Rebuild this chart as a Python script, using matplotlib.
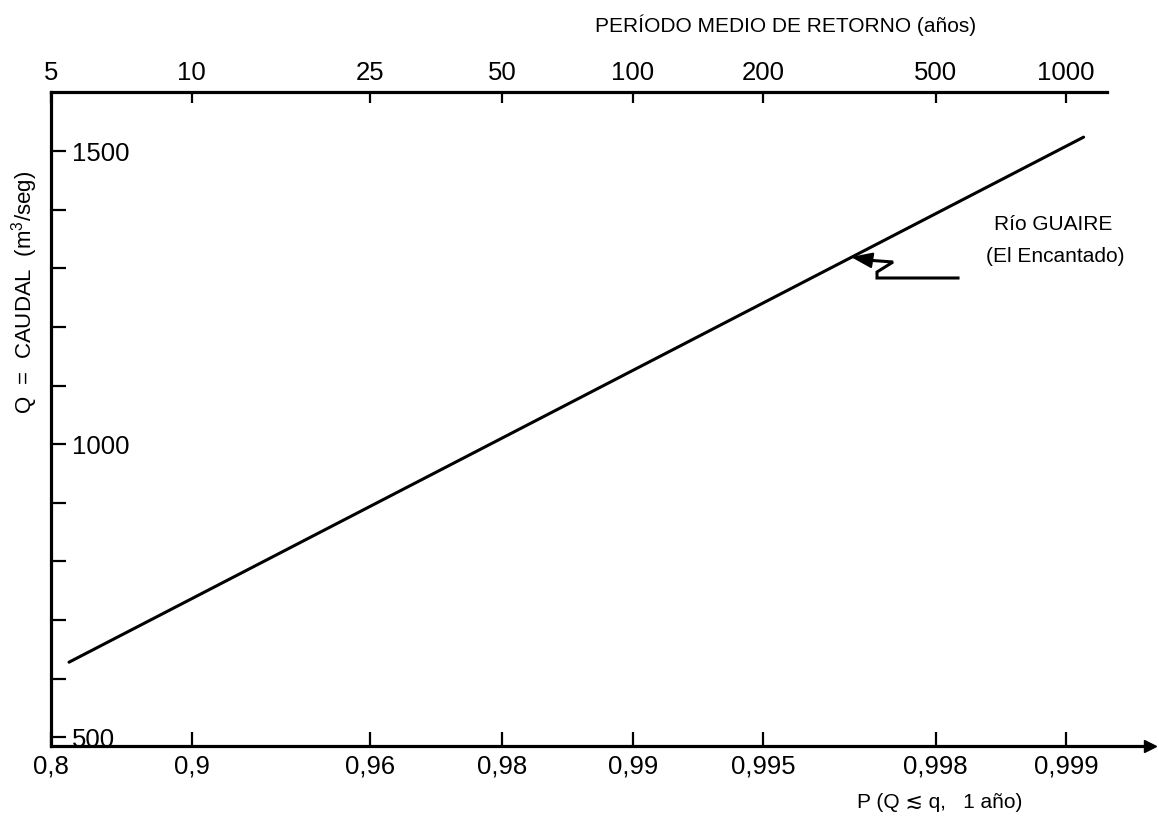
import numpy as np
import matplotlib
matplotlib.use("Agg")
import matplotlib.pyplot as plt

# Data
prob = [0.8165, 0.99909]           # P(Q <= q, 1 year) at the line ends
caudal = [628, 1524]               # Q (m3/s)

p_ticks = [0.8, 0.9, 0.96, 0.98, 0.99, 0.995, 0.998, 0.999]
p_labels = ["0,8", "0,9", "0,96", "0,98", "0,99", "0,995", "0,998", "0,999"]
t_ticks = [5, 10, 25, 50, 100, 200, 500, 1000]   # return period (years)

q_ticks = list(range(500, 1501, 100))
q_labels = [str(q) if q % 500 == 0 else "" for q in q_ticks]

plt.rcParams['font.family'] = ['Liberation Sans', 'DejaVu Sans']
plt.rcParams['mathtext.fontset'] = 'custom'
plt.rcParams['mathtext.rm'] = 'Liberation Sans'


# Gumbel probability scale
def gumbel(p):
    p = np.clip(np.asarray(p, dtype=float), 1e-12, 1 - 1e-12)
    return -np.log(-np.log(p))


def gumbel_inv(r):
    return np.exp(-np.exp(-np.asarray(r, dtype=float)))


W, H = 1159, 819
fig = plt.figure(figsize=(W / 100, H / 100), dpi=100)
L, R, T, B = 51, 1150, 92, 746
ax = fig.add_axes([L / W, 1 - B / H, (R - L) / W, (B - T) / H])

x_lo, x_hi = 0.8, 0.999361
x_top_end = 0.999196

ax.set_xscale('function', functions=(gumbel, gumbel_inv))
ax.set_xlim(x_lo, x_hi)
ax.set_ylim(485, 1601)

ax.plot(prob, caudal, color='black', lw=2.2, solid_capstyle='round')

for s in ['top', 'right']:
    ax.spines[s].set_visible(False)
for s in ['left', 'bottom']:
    ax.spines[s].set_linewidth(2.3)

ax.set_xticks(p_ticks, p_labels)
ax.set_yticks(q_ticks, q_labels)
ax.tick_params(axis='x', direction='in', length=10, width=1.6, pad=6,
               labelsize=18.5, colors='black')
ax.tick_params(axis='y', direction='in', length=10.5, width=1.6, pad=-15,
               labelsize=18.5)
for lab in ax.get_yticklabels():
    lab.set_horizontalalignment('left')
ax.xaxis.set_minor_locator(matplotlib.ticker.NullLocator())

# arrow at end of the bottom axis
ax.plot(1, 0, marker='>', color='black', markersize=8,
        transform=ax.transAxes, clip_on=False)

# top axis: return period
ax2 = ax.twiny()
ax2.set_xscale('function', functions=(gumbel, gumbel_inv))
ax2.set_xlim(ax.get_xlim())
ax2.set_xticks([1 - 1 / t for t in t_ticks], [str(t) for t in t_ticks])
ax2.xaxis.set_minor_locator(matplotlib.ticker.NullLocator())
ax2.tick_params(axis='x', direction='in', length=8, width=1.6, pad=5,
                labelsize=18.5)
for s in ['left', 'right', 'bottom']:
    ax2.spines[s].set_visible(False)
ax2.spines['top'].set_linewidth(2.3)
ax2.spines['top'].set_bounds(x_lo, x_top_end)

# axis titles
fig.text(786 / W, 1 - 25 / H, "PERÍODO MEDIO DE RETORNO (años)",
         ha='center', va='center', fontsize=15)
fig.text(940 / W, 1 - 803 / H, "P (Q \u2272 q,   1 año)",
         ha='center', va='center', fontsize=15)
fig.text(25 / W, 1 - 292 / H, r"Q  =  CAUDAL  (m$^3$/seg)",
         ha='center', va='center', rotation=90, fontsize=16)


# label of the curve with its pointer
def frac(px, py):
    return ((px - L) / (R - L), (B - py) / (B - T))


ax.text(*frac(1053, 225), "Río GUAIRE", transform=ax.transAxes,
        ha='center', va='center', fontsize=15)
ax.text(*frac(1055, 257), "(El Encantado)", transform=ax.transAxes,
        ha='center', va='center', fontsize=15)

pointer = [frac(958, 278), frac(877, 278), frac(877, 272),
           frac(893, 262), frac(866, 260)]
ax.plot([p[0] for p in pointer], [p[1] for p in pointer], color='black',
        lw=2.2, transform=ax.transAxes, solid_joinstyle='miter')
ax.annotate("", xy=frac(851, 257), xycoords='axes fraction',
            xytext=frac(870, 260), textcoords='axes fraction',
            arrowprops=dict(arrowstyle='-|>,head_length=0.6,head_width=0.22',
                            color='black', lw=1.5,
                            mutation_scale=22, shrinkA=0, shrinkB=0))

fig.savefig("out.png", dpi=100)
